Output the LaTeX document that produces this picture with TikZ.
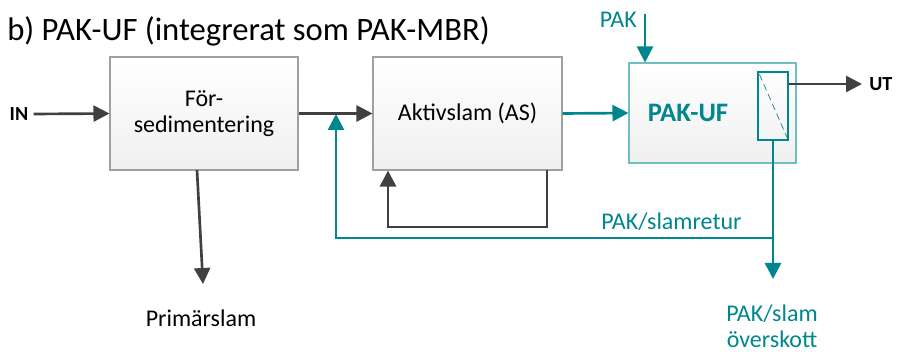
\documentclass[tikz,border=0pt]{standalone}
\usepackage{fontspec}
\setmainfont{Carlito}
\usetikzlibrary{arrows.meta,calc}
\definecolor{teal1}{RGB}{0,134,142}
\definecolor{teallt}{RGB}{110,190,196}
\definecolor{dgray}{RGB}{64,64,64}
\definecolor{bgray}{RGB}{160,160,160}
\tikzset{
  procbox/.style={draw=bgray, line width=0.8pt, top color=white, bottom color=black!6, inner sep=0pt},
  darr/.style={draw=dgray, line width=2pt, -{Triangle[length=12pt,width=12pt]}},
  tarr/.style={draw=teal1, line width=2pt, -{Triangle[length=12pt,width=12pt]}},
  lbl/.style={font=\fontsize{18}{19.5}\selectfont, inner sep=0pt},
}
\begin{document}
\begin{tikzpicture}[x=0.75pt,y=-0.75pt]
\useasboundingbox (0,0) rectangle (898,352);
% title
\node[anchor=west, font=\fontsize{24.5}{29}\selectfont, inner sep=0pt] (title) at (7,31) {b) PAK-UF (integrerat som PAK-MBR)};
% boxes
\node[procbox, minimum width=141pt, minimum height=84.75pt, align=center, font=\fontsize{18}{19.5}\selectfont] (fs) at (204,113.5) {För-\\sedimentering};
\node[procbox, minimum width=141.75pt, minimum height=84.75pt, font=\fontsize{18}{19.5}\selectfont] (as) at (467.5,113.5) {Aktivslam (AS)};
\node[procbox, draw=teallt, minimum width=125.25pt, minimum height=75pt] (uf) at (712.5,113) {};
\node[font=\bfseries\fontsize{20}{24}\selectfont, text=teal1, inner sep=0pt] (uftxt) at (688,113) {PAK-UF};
\node[draw=teal1, line width=0.8pt, minimum width=22.5pt, minimum height=51pt, inner sep=0pt] (mem) at (773,106) {};
\draw[teal1, line width=0.5pt, dash pattern=on 5pt off 3pt] ($(mem.north west)+(2,3)$) -- ($(mem.south east)+(-1,-2)$);
% labels
\node[lbl, font=\bfseries\fontsize{15}{17}\selectfont] (in) at (19,114) {IN};
\node[lbl, font=\bfseries\fontsize{15}{17}\selectfont, anchor=west] (ut) at (869,84) {UT};
\node[lbl, text=teal1, anchor=east] (pak) at (637,20) {PAK};
\node[lbl, text=teal1, anchor=west] (retur) at (601,222) {PAK/slamretur};
\node[lbl, text=teal1, align=center] (over) at (772,326) {PAK/slam\\överskott};
\node[lbl] (prim) at (201,318) {Primärslam};
% coordinates
\coordinate (j) at (336,114);
\coordinate (jr) at (336,238);
\coordinate (m) at (773,238);
\coordinate (mo) at (773,279);
\coordinate (pk) at (645,14);
\coordinate (ptop) at (197,170);
\coordinate (pbot) at (203,284);
\coordinate (lb) at (547,170);
\coordinate (l1) at (547,227);
\coordinate (l2) at (388,227);
\coordinate (utend) at (862,84);
% connectors
\draw[darr] ($(in.east)+(5,0)$) -- (fs.west);
\draw[darr] (fs.east) -- (as.west);
\draw[tarr] (as.east) -- (uf.west);
\draw[tarr] (pk) -- (pk |- uf.north);
\draw[darr] (mem.east |- utend) -- (utend);
\draw[darr] (ptop) -- (pbot);
\draw[darr, line join=miter] (lb) -- (l1) -- (l2) -- (l2 |- as.south);
\draw[tarr, line join=miter] (m) -- (jr) -- (j);
\draw[tarr] (mem.south) -- (mo);
\end{tikzpicture}
\end{document}
